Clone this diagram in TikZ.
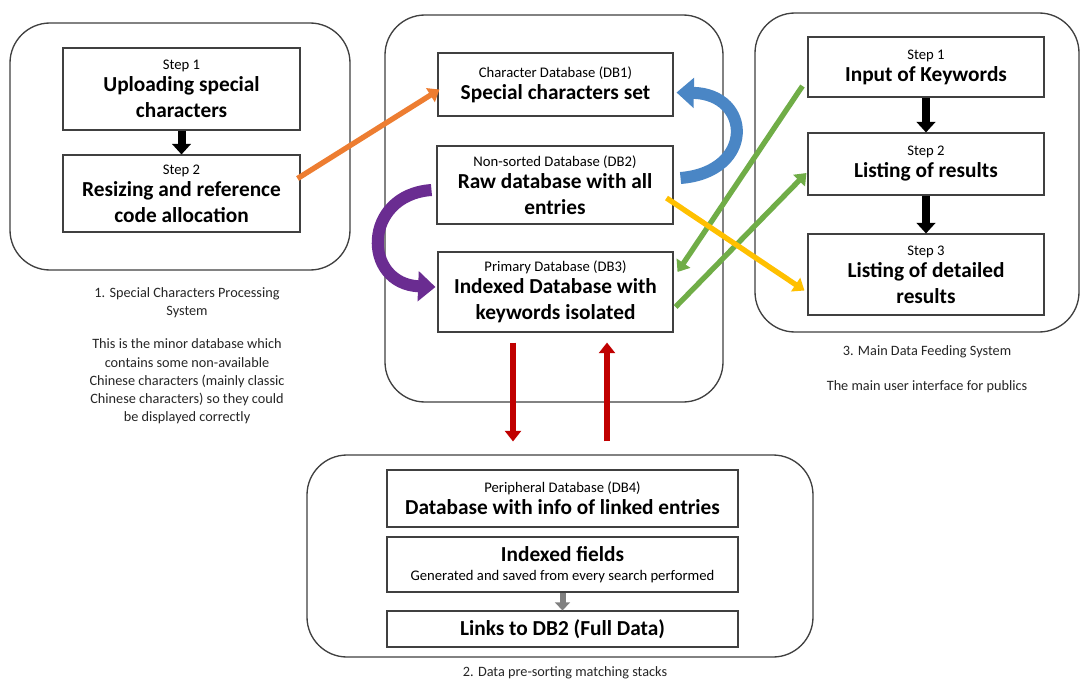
\documentclass[tikz,border=0pt]{standalone}
\usepackage{fontspec}
\setmainfont{Carlito}
\usetikzlibrary{arrows.meta,calc}
\definecolor{cOrange}{HTML}{ED7D31}
\definecolor{cGreen}{HTML}{70AD47}
\definecolor{cYellow}{HTML}{FFC000}
\definecolor{cRed}{HTML}{C00000}
\definecolor{cBlue}{HTML}{4A86C5}
\definecolor{cPurple}{HTML}{6A2C91}
\definecolor{cBorder}{HTML}{404040}
\newcommand\smlbl[1]{{\fontsize{11}{12}\selectfont\mdseries #1}}
\begin{document}
\begin{tikzpicture}[x=0.75pt,y=-0.75pt,
  cont/.style={draw=cBorder,line width=1pt,rounded corners=30pt,inner sep=0pt},
  stepbox/.style={draw=black!75,line width=0.8pt,inner sep=0pt,align=center,
    font=\fontsize{16}{19.5}\selectfont\bfseries},
  captxt/.style={align=center,font=\fontsize{10.7}{13.7}\selectfont,text=black!85},
  blk/.style={line width=6pt,-{Triangle[length=8pt,width=14pt]}},
  thin/.style={line width=4pt,-{Triangle[length=8pt,width=12pt]}},
  curvy/.style={line width=9pt,-{Triangle[length=13pt,width=22pt]}}
]
\useasboundingbox (0,0) rectangle (1082,682);
\fill[white] (0,0) rectangle (1082,682);

% containers
\node[cont,minimum width=255pt,minimum height=185.25pt] (c1) at (180,146.5) {};
\node[cont,minimum width=253.5pt,minimum height=290.25pt] (c2) at (554,208.5) {};
\node[cont,minimum width=243pt,minimum height=239.25pt] (c3) at (917,172.5) {};
\node[cont,minimum width=379.5pt,minimum height=151.5pt] (c4) at (560,556) {};

% system 1
\node[stepbox,minimum width=177.75pt,minimum height=61.5pt] (s1) at (181.5,89)
  {\smlbl{Step 1}\\[-3pt]Uploading special\\characters};
\node[stepbox,minimum width=177.75pt,minimum height=57.75pt] (s2) at (181.5,193.5)
  {\smlbl{Step 2}\\[-3pt]Resizing and reference\\code allocation};

% databases
\node[stepbox,minimum width=176.25pt,minimum height=47.25pt] (db1) at (555.5,84.5)
  {\smlbl{Character Database (DB1)}\\[-3pt]Special characters set};
\node[stepbox,minimum width=177pt,minimum height=58.5pt] (db2) at (555,185)
  {\smlbl{Non-sorted Database (DB2)}\\[-3pt]Raw database with all\\entries};
\node[stepbox,minimum width=176.25pt,minimum height=60pt] (db3) at (555.5,292)
  {\smlbl{Primary Database (DB3)}\\[-3pt]Indexed Database with\\keywords isolated};

% system 3
\node[stepbox,minimum width=177pt,minimum height=45pt] (r1) at (926,67)
  {\smlbl{Step 1}\\[-3pt]Input of Keywords};
\node[stepbox,minimum width=177pt,minimum height=46.5pt] (r2) at (926,164)
  {\smlbl{Step 2}\\[-3pt]Listing of results};
\node[stepbox,minimum width=177pt,minimum height=60.75pt] (r3) at (926,274.5)
  {\smlbl{Step 3}\\[-3pt]Listing of detailed\\results};

% system 2
\node[stepbox,minimum width=263.25pt,minimum height=42.75pt] (db4) at (562.5,498.5)
  {\smlbl{Peripheral Database (DB4)}\\[-3pt]Database with info of linked entries};
\node[stepbox,minimum width=263.25pt,minimum height=41.25pt] (idx) at (562.5,564.5)
  {Indexed fields\\[-5pt]\smlbl{Generated and saved from every search performed}};
\node[stepbox,minimum width=263.25pt,minimum height=27pt] (lnk) at (562.5,629)
  {Links to DB2 (Full Data)};

% captions
\node[captxt] (cap1) at (187,302.5) {1. Special Characters Processing\\System};
\node[captxt] (cap1b) at (187,381.5) {This is the minor database which\\contains some non-available\\Chinese characters (mainly classic\\Chinese characters) so they could\\be displayed correctly};
\node[captxt] (cap3) at (927,352) {3. Main Data Feeding System};
\node[captxt] (cap3b) at (927,387) {The main user interface for publics};
\node[captxt] (cap2) at (565,673) {2. Data pre-sorting matching stacks};

% black step arrows
\draw[blk] (s1.south) -- (s2.north);
\draw[blk] (r1.south) -- (r2.north);
\draw[blk] (r2.south) -- (r3.north);
\draw[line width=4.5pt,black!50,-{Triangle[length=6pt,width=11pt]}] (idx.south) -- (lnk.north);

% coloured connectors
\draw[thin,cOrange] ($(s2.east)+(-3,-15)$) -- ($(db1.west)+(2,5)$);
\draw[thin,cGreen] ($(r1.west)+(-5,19)$) -- ($(db3.east)+(4,-20)$);
\draw[thin,cGreen] ($(db3.east)+(2,15)$) -- ($(r2.west)+(-1,9)$);
\draw[thin,cYellow] ($(db2.east)+(-7,13)$) -- ($(r3.west)+(-3,16)$);
\draw[thin,cRed,-{Triangle[length=8pt,width=12pt]}] ($(db3.south)+(-42.5,10)$) -- ($(db4.north)+(-49.5,-28)$);
\draw[thin,cRed,-{Triangle[length=8pt,width=12pt]}] ($(db4.north)+(44.5,-28)$) -- ($(db3.south)+(51.5,10)$);

% curved arrows
\draw[curvy,cBlue] ($(db2.east)+(7,-7)$) .. controls (755,172) and (752,94) .. ($(db1.east)+(3,8)$);
\draw[curvy,cPurple] ($(db2.west)+(-5,5)$) .. controls (362,195) and (362,284) .. ($(db3.west)+(-2,-5)$);
\end{tikzpicture}
\end{document}
